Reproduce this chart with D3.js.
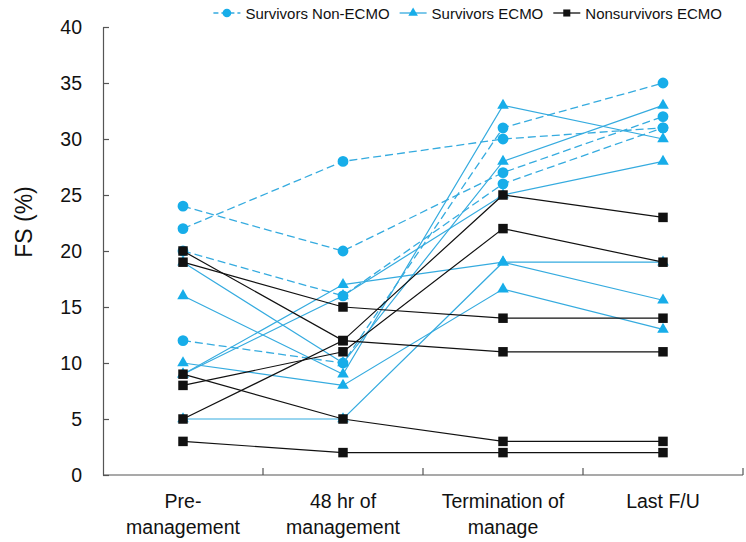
<!DOCTYPE html>
<html><head><meta charset="utf-8">
<script src="https://cdn.jsdelivr.net/npm/d3@7"></script>
<style>body{margin:0;background:#fff}svg{display:block}</style>
</head><body><div id="chart"></div>
<script>
const categories = ["Pre-management", "48 hr of management", "Termination of manage", "Last F/U"];
const categoryLines = [["Pre-", "management"], ["48 hr of", "management"], ["Termination of", "manage"], ["Last F/U"]];
const yTicks = [0, 5, 10, 15, 20, 25, 30, 35, 40];
const seriesNames = ["Survivors Non-ECMO", "Survivors ECMO", "Nonsurvivors ECMO"];
const survivorsNonECMO = [
  [24, 20, 27, 32],
  [22, 28, 30, 31],
  [20, 16, 26, 31],
  [12, 10, 31, 35]
];
const survivorsECMO = [
  [19, 10, 28, 33],
  [16, 9, 33, 30],
  [10, 8, 16.6, 13],
  [9, 17, 19, 15.6],
  [9, 16, 25, 28],
  [5, 5, 19, 19]
];
const nonsurvivorsECMO = [
  [20, 12, 11, 11],
  [19, 15, 14, 14],
  [9, 5, 3, 3],
  [8, 11, 22, 19],
  [5, 12, 25, 23],
  [3, 2, 2, 2]
];

const W = 746, H = 542;
const mLeft = 103, mRight = 743, mTop = 27, mBottom = 475;
const CYAN = "#17ade9", CYANL = "#35abdf", BLACK = "#111";
const FONT = "'Liberation Sans', Arial, sans-serif";

const svg = d3.select("#chart").append("svg").attr("width", W).attr("height", H);

const x = d3.scaleBand().domain(categories).range([mLeft, mRight]).padding(0);
const xc = c => x(c) + x.bandwidth() / 2;
const y = d3.scaleLinear().domain([0, 40]).range([mBottom, mTop]);

// Y axis
const yAxis = svg.append("g").attr("transform", `translate(${mLeft},0)`)
  .call(d3.axisLeft(y).tickValues(yTicks).tickSizeInner(-6).tickSizeOuter(0).tickPadding(21));
yAxis.select(".domain").attr("stroke", "#555").attr("stroke-width", 1.2);
yAxis.selectAll(".tick line").attr("stroke", "#555").attr("stroke-width", 1.2);
yAxis.selectAll(".tick text").attr("font-family", FONT).attr("font-size", 19.5).attr("fill", "#111");

// X axis
const xg = svg.append("g");
xg.append("line").attr("x1", mLeft).attr("x2", mRight).attr("y1", mBottom).attr("y2", mBottom)
  .attr("stroke", "#555").attr("stroke-width", 1.2);
categories.forEach(c => {
  const ex = x(c) + x.bandwidth();
  xg.append("line").attr("x1", ex).attr("x2", ex).attr("y1", mBottom).attr("y2", mBottom - 7)
    .attr("stroke", "#555").attr("stroke-width", 1.2);
});
categories.forEach((c, i) => {
  const t = xg.append("text").attr("x", xc(c)).attr("y", 508).attr("text-anchor", "middle")
    .attr("font-family", FONT).attr("font-size", 19.5).attr("fill", "#111");
  categoryLines[i].forEach((ln, j) => {
    t.append("tspan").attr("x", xc(c)).attr("dy", j === 0 ? 0 : 26).text(ln);
  });
});

// Y title
svg.append("text").attr("transform", "translate(32,222) rotate(-90)").attr("text-anchor", "middle")
  .attr("font-family", FONT).attr("font-size", 23).attr("fill", "#111").text("FS (%)");

const line = d3.line().x((d, i) => xc(categories[i])).y(d => y(d));

function drawSeries(data, color, lineColor, dash, symType, symSize, width) {
  const g = svg.append("g");
  data.forEach(row => {
    g.append("path").attr("d", line(row)).attr("fill", "none").attr("stroke", lineColor)
      .attr("stroke-width", width).attr("stroke-dasharray", dash);
  });
  data.forEach(row => {
    row.forEach((v, i) => {
      g.append("path").attr("d", d3.symbol().type(symType).size(symSize)())
        .attr("transform", `translate(${xc(categories[i])},${y(v)})`).attr("fill", color);
    });
  });
}
drawSeries(survivorsNonECMO, CYAN, CYANL, "8,4", d3.symbolCircle, 92, 1.3);
drawSeries(survivorsECMO, CYAN, CYANL, null, d3.symbolTriangle, 58, 1.2);
drawSeries(nonsurvivorsECMO, BLACK, BLACK, null, d3.symbolSquare, 90, 1.2);

// Legend (right-aligned so it ends near x=722)
const lg = svg.append("g");
const legendDefs = [
  { name: seriesNames[0], color: CYAN, dash: "5,3", sym: d3.symbolCircle, size: 60 },
  { name: seriesNames[1], color: CYAN, dash: null, sym: d3.symbolTriangle, size: 40 },
  { name: seriesNames[2], color: BLACK, dash: null, sym: d3.symbolSquare, size: 50 }
];
const ly = 13;
let cursor = 722;
for (let k = legendDefs.length - 1; k >= 0; k--) {
  const d = legendDefs[k];
  const t = lg.append("text").attr("y", ly + 5.5).attr("font-family", FONT).attr("font-size", 15)
    .attr("fill", "#111").text(d.name);
  const w = t.node().getComputedTextLength();
  const tx = cursor - w;
  t.attr("x", tx);
  const sx2 = tx - 5, sx1 = sx2 - 27;
  lg.append("line").attr("x1", sx1).attr("x2", sx2).attr("y1", ly).attr("y2", ly)
    .attr("stroke", d.color === BLACK ? BLACK : CYANL).attr("stroke-width", 1.3).attr("stroke-dasharray", d.dash);
  lg.append("path").attr("d", d3.symbol().type(d.sym).size(d.size)())
    .attr("transform", `translate(${(sx1 + sx2) / 2},${ly})`).attr("fill", d.color);
  cursor = sx1 - 10;
}
</script></body></html>
